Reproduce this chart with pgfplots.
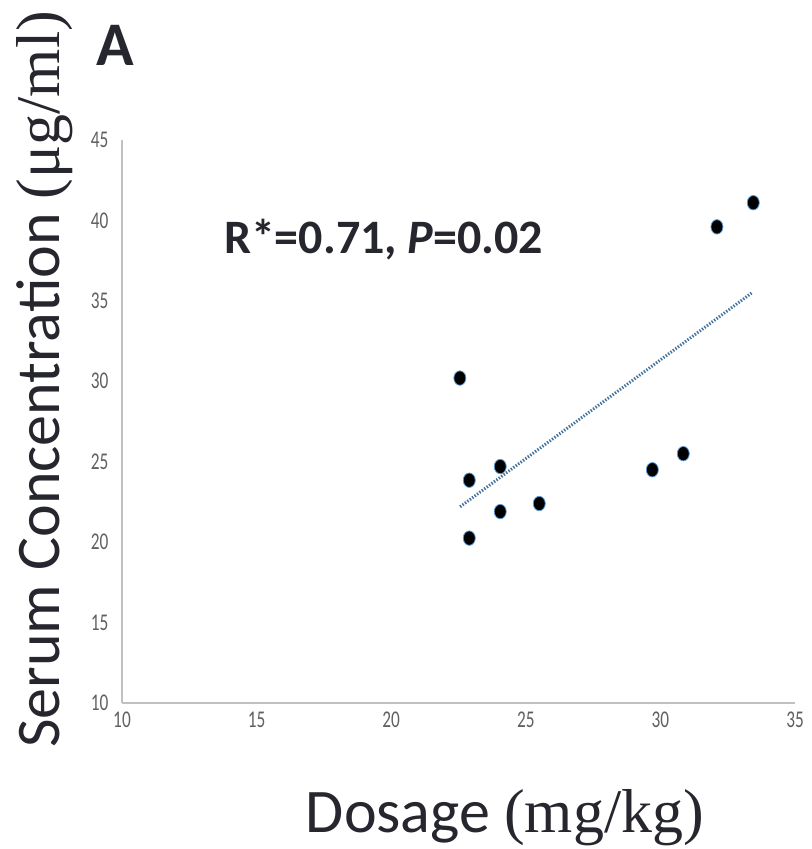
\documentclass[border=0pt]{standalone}
\usepackage{fontspec}
\setmainfont{Carlito}
\newfontfamily\serif{Liberation Serif}
\usepackage{pgfplots}
\pgfplotsset{compat=1.18}
\definecolor{axisgray}{HTML}{C0C0C0}
\definecolor{tickgray}{HTML}{606060}
\definecolor{labelcol}{HTML}{26262E}
\definecolor{trendblue}{HTML}{41719C}
\definecolor{halo}{HTML}{5B9BD5}

\begin{document}
\begin{tikzpicture}
\path[use as bounding box] (-61pt,-73pt) rectangle (344.5pt,351.5pt);
\begin{axis}[
  at={(0,0)}, anchor=south west,
  scale only axis,
  width=336.5pt, height=281.5pt,
  xmin=10, xmax=35, ymin=10, ymax=45,
  axis x line=bottom, axis y line=left,
  axis line style={draw=axisgray, line width=0.8pt, -},
  xtick={10,15,...,35}, ytick={10,15,...,45},
  major tick length=0pt,
  tick label style={font=\fontsize{12}{14}\selectfont, text=tickgray, xscale=0.72},
  /pgf/number format/assume math mode=true,
  yticklabel style={xshift=-6pt},
  xticklabel style={yshift=-1pt},
  clip=false,
  xlabel={Dosage {\serif(mg/kg)}},
  ylabel={Serum Concentration {\serif(μg/ml)}},
  label style={font=\fontsize{31}{36}\selectfont, text=labelcol},
  xlabel style={at={(axis description cs:0.569,-0.204)}, anchor=center},
  ylabel style={at={(axis description cs:-0.1144,0.575)}, anchor=center},
]
\addplot[only marks, mark=*, mark size=3pt,
  mark options={fill=black, draw=halo, line width=0.4pt, yscale=1.2}]
  coordinates {
  (22.55,30.2) (22.9,23.85) (22.9,20.25) (24.05,24.7) (24.05,21.9)
  (25.5,22.4) (29.7,24.5) (30.85,25.5) (32.1,39.6) (33.45,41.1)
};
\addplot[draw=trendblue, line width=1.5pt, dash pattern=on 0.7pt off 0.8pt]
  coordinates {(22.56,22.2) (33.4,35.5)};
\node[font=\fontsize{24}{28}\selectfont\bfseries, text=labelcol]
  at (axis cs:19.72,38.8) {R*=0.71, \textit{P}=0.02};
\node[font=\fontsize{31}{36}\selectfont\bfseries, text=labelcol]
  at (axis description cs:-0.0104,1.1687) {A};
\end{axis}
\end{tikzpicture}
\end{document}
